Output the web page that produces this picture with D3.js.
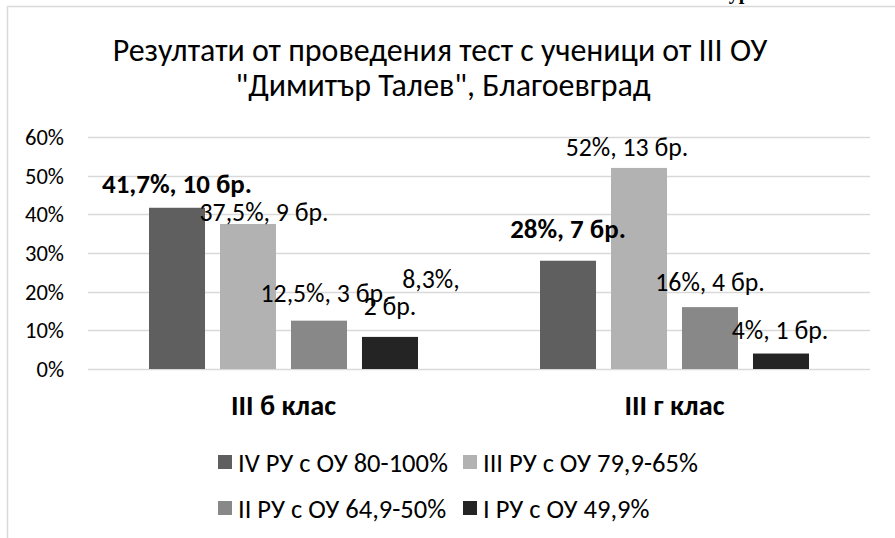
<!DOCTYPE html>
<html><head><meta charset="utf-8">
<script src="https://cdn.jsdelivr.net/npm/d3@7/dist/d3.min.js"></script>
<style>
html,body{margin:0;padding:0;background:#fff;overflow:hidden}
text{font-family:Carlito,Lato,"Open Sans",sans-serif;fill:#000}
</style></head>
<body>
<svg id="chart" width="895" height="538"></svg>
<script>
// ---- data ----
const titleLines = ["Резултати от проведения тест с ученици от III ОУ", "\"Димитър Талев\", Благоевград"];
const categories = ["III б клас", "III г клас"];
const seriesNames = ["IV РУ с ОУ 80-100%", "III РУ с ОУ 79,9-65%", "II РУ с ОУ 64,9-50%", "I РУ с ОУ 49,9%"];
const seriesColors = ["#5f5f5f", "#b2b2b2", "#888888", "#242424"];
const percentIIIb = [41.7, 37.5, 12.5, 8.3];
const percentIIIg = [28, 52, 16, 4];
const countIIIb = [10, 9, 3, 2];
const countIIIg = [7, 13, 4, 1];
const yTicks = [0, 10, 20, 30, 40, 50, 60];
const figureCaption = "Фигура № 3";

const percents = [percentIIIb, percentIIIg];
const counts = [countIIIb, countIIIg];

// ---- layout ----
const svg = d3.select("#chart");
const plotLeft = 88, plotRight = 870, yZero = 369, yTop = 137;
// label offsets (dx, dy) from top centre of each bar; manual placement as in the original
const labelOffsets = [
  [[0, -24], [16, -12], [6, -28], [0, -31]],
  [[0, -32], [-12, -21], [0, -25], [-1, -23.5]]
];
const boldLabel = [[true, false, false, false], [true, false, false, false]];

function fit(sel, w) {
  const len = sel.node().getComputedTextLength();
  const fs = parseFloat(sel.style("font-size"));
  const nfs = fs * w / len;
  sel.style("font-size", nfs + "px");
  return nfs;
}

// frame
svg.append("line").attr("x1", 7.5).attr("x2", 7.5).attr("y1", 6).attr("y2", 538)
  .attr("stroke", "#d9d9d9").attr("stroke-width", 1.5);
svg.append("line").attr("x1", 7).attr("x2", 895).attr("y1", 6.5).attr("y2", 6.5)
  .attr("stroke", "#d9d9d9").attr("stroke-width", 1.5);

// caption cut at top (only its lowest pixels are visible in the original)
svg.append("text").text(figureCaption).attr("x", 800).attr("y", -1)
  .attr("text-anchor", "end")
  .style("font-family", "'Liberation Serif', serif").style("font-weight", "bold").style("font-size", "20px");

// title
const t1 = svg.append("text").text(titleLines[0]).attr("x", 440).attr("y", 61)
  .attr("text-anchor", "middle").style("font-size", "24px");
const tfs = fit(t1, 655);
svg.append("text").text(titleLines[1]).attr("x", 443).attr("y", 96)
  .attr("text-anchor", "middle").style("font-size", tfs + "px");

// scales
const y = d3.scaleLinear().domain([0, 60]).range([yZero, yTop]);
const x0 = d3.scaleBand().domain(categories).range([plotLeft, plotRight]).padding(0);
const x1 = d3.scaleBand().domain(seriesNames).range([61, 330]).paddingInner(0.211).paddingOuter(0);

// gridlines
svg.append("g").selectAll("line").data(yTicks).join("line")
  .attr("x1", plotLeft).attr("x2", plotRight)
  .attr("y1", d => Math.round(y(d)) + 0.5).attr("y2", d => Math.round(y(d)) + 0.5)
  .attr("stroke", "#d9d9d9").attr("stroke-width", 1.5);

// y tick labels
const tickG = svg.append("g");
const tl = tickG.selectAll("text").data(yTicks).join("text")
  .attr("x", 64).attr("y", d => y(d)).attr("dy", "0.36em")
  .attr("text-anchor", "end").style("font-size", "20px")
  .text(d => d + "%");
const tickFs = fit(tl.filter(d => d === 50), 39);
tl.style("font-size", tickFs + "px");

// bars
const groups = svg.append("g").selectAll("g").data(categories).join("g")
  .attr("transform", d => `translate(${x0(d)},0)`);
groups.selectAll("rect").data((c, ci) => seriesNames.map((s, si) => ({ s, si, ci, v: percents[ci][si] })))
  .join("rect")
  .attr("x", d => x1(d.s)).attr("width", x1.bandwidth())
  .attr("y", d => y(d.v)).attr("height", d => y(0) - y(d.v))
  .attr("fill", (d) => seriesColors[d.si]);

// value labels
const fmtPct = v => String(v).replace(".", ",") + "%";
const labelG = svg.append("g");
categories.forEach((c, ci) => {
  seriesNames.forEach((s, si) => {
    const v = percents[ci][si];
    const cx = x0(c) + x1(s) + x1.bandwidth() / 2;
    const top = y(v);
    const [dx, dy] = labelOffsets[ci][si];
    const txt = fmtPct(v) + ", " + counts[ci][si] + " бр.";
    const isBold = boldLabel[ci][si];
    if (ci === 0 && si === 3) {
      // wrapped label in the original
      const parts = [fmtPct(v) + ",", counts[ci][si] + " бр."];
      labelG.append("text").attr("class", "vl").text(parts[0])
        .attr("x", cx + 41).attr("y", top - 58).attr("dy", "0.36em").attr("text-anchor", "middle");
      labelG.append("text").attr("class", "vl").text(parts[1])
        .attr("x", cx + dx).attr("y", top + dy).attr("dy", "0.36em").attr("text-anchor", "middle");
      return;
    }
    labelG.append("text").attr("class", isBold ? "vlb" : "vl").text(txt)
      .attr("x", cx + dx).attr("y", top + dy).attr("dy", "0.36em")
      .attr("text-anchor", "middle")
      .style("font-weight", isBold ? "bold" : "normal");
  });
});
labelG.selectAll("text").style("font-size", "22px");
const normalFs = fit(labelG.selectAll("text.vl").filter(function () { return d3.select(this).text() === "37,5%, 9 бр."; }), 129);
labelG.selectAll("text.vl").style("font-size", normalFs + "px");
const boldFs = fit(labelG.selectAll("text.vlb").filter(function () { return d3.select(this).text() === "41,7%, 10 бр."; }), 150);
labelG.selectAll("text.vlb").style("font-size", boldFs + "px");

// category labels
const cl = svg.append("g").selectAll("text").data(categories).join("text")
  .attr("x", d => x0(d) + x0.bandwidth() / 2).attr("y", 405).attr("dy", "0.36em")
  .attr("text-anchor", "middle").style("font-weight", "bold").style("font-size", "20px")
  .text(d => d);
const catFs = fit(cl.filter((d, i) => i === 0), 105);
cl.style("font-size", catFs + "px");

// legend
const legendPos = [[218, 462], [463, 462], [218, 508], [463, 508]];
const lg = svg.append("g").selectAll("g").data(seriesNames).join("g")
  .attr("transform", (d, i) => `translate(${legendPos[i][0]},${legendPos[i][1]})`);
lg.append("rect").attr("x", 0).attr("y", -7).attr("width", 14).attr("height", 14)
  .attr("fill", (d, i) => seriesColors[i]);
const lt = lg.append("text").attr("x", 20).attr("y", 0).attr("dy", "0.36em")
  .style("font-size", "20px").text(d => d);
const legFs = fit(lt.filter((d, i) => i === 0), 210);
lt.style("font-size", legFs + "px");
</script>
</body></html>
